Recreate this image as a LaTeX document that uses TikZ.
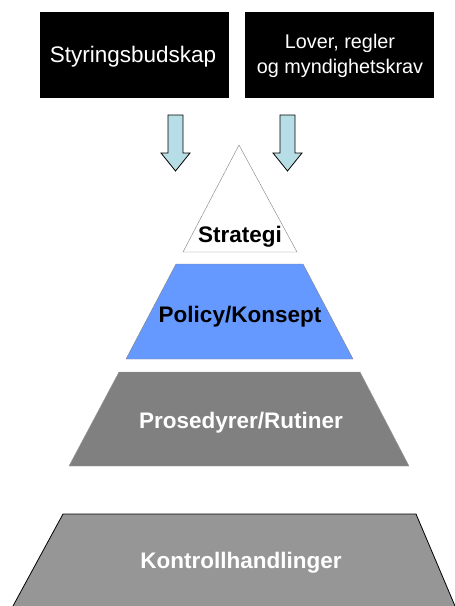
\documentclass[tikz,border=0pt]{standalone}
\usepackage{fontspec}
\setmainfont{Liberation Sans}
\usepackage{xcolor}
\usepackage{tikz}
\usetikzlibrary{positioning}

\definecolor{arrowfill}{RGB}{183,222,230}
\definecolor{policyblue}{RGB}{102,153,255}
\definecolor{rutinegray}{RGB}{128,128,128}
\definecolor{kontrollgray}{RGB}{150,150,150}

\tikzset{
    topbox/.style={fill=black, draw=black},
    toptext/.style={text=white, font=\fontsize{22.5}{26}\selectfont, anchor=base},
    layertext/.style={font=\bfseries\fontsize{22.5}{26}\selectfont, anchor=base},
    blockarrow/.style={fill=arrowfill, draw=black, line width=0.8pt}
}

\begin{document}
\begin{tikzpicture}[x=1pt, y=-1pt]
    \useasboundingbox (0,0) rectangle (455,606);

    % input boxes on top
    \draw[topbox] (40,12) rectangle (228,97);
    \draw[topbox] (245,12) rectangle (433,97);
    \node[toptext] (styring) at (133,62) {Styringsbudskap};
    \node[toptext, font=\fontsize{19.8}{24}\selectfont] (lover) at (340,48) {Lover, regler};
    \node[toptext, font=\fontsize{19.8}{24}\selectfont] (krav) at (340,73) {og myndighetskrav};

    % block arrows down to the pyramid
    \foreach \ax in {175.5, 287.5} {
        \draw[blockarrow] (\ax-7.5,115) -- (\ax+7.5,115) -- (\ax+7.5,153) -- (\ax+14.5,153)
            -- (\ax,171) -- (\ax-14.5,153) -- (\ax-7.5,153) -- cycle;
    }

    % pyramid layers
    \draw[fill=white, draw=gray] (239,145) -- (297,252) -- (183,252) -- cycle;
    \draw[fill=policyblue, draw=gray] (176,264) -- (303,264) -- (353,359) -- (126,359) -- cycle;
    \draw[fill=rutinegray, draw=rutinegray!80] (119,372) -- (360,372) -- (409,466) -- (69,466) -- cycle;
    \fill[kontrollgray] (63,514) -- (416,514) -- (455,606) -- (13,606) -- cycle;
    \draw[black, line width=0.8pt] (13,606) -- (63,514) -- (416,514) -- (455,606);

    % layer labels
    \node[layertext] (strategi) at (240,242) {Strategi};
    \node[layertext] (policy) at (240,322) {Policy/Konsept};
    \node[layertext, text=white] (rutiner) at (241,428) {Prosedyrer/Rutiner};
    \node[layertext, text=white] (kontroll) at (241,568) {Kontrollhandlinger};
\end{tikzpicture}
\end{document}
